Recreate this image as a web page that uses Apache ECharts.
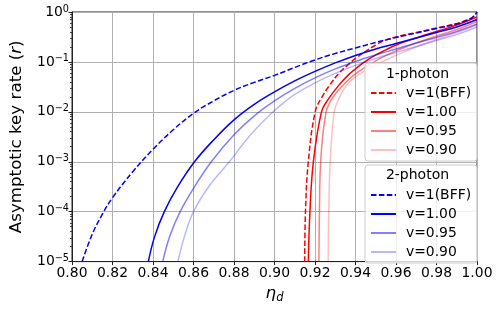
<!DOCTYPE html>
<html><head><meta charset="utf-8">
<script src="https://cdn.jsdelivr.net/npm/echarts@6/dist/echarts.min.js"></script>
<style>html,body{margin:0;padding:0;background:#fff}#c{width:498px;height:309px}</style>
</head><body><div id="c"></div><script>
// x values (eta_d) and log10 of key rate
const eta1pBFF = [0.9149,0.9153,0.9167,0.9201,0.9235,0.927,0.932,0.936,0.94,0.945,0.95,0.955,0.96,0.97,0.98,0.99,0.995,0.998,1.0];
const log1pBFF = [-5,-4,-3,-2,-1.7,-1.48,-1.22,-1.07,-0.93,-0.79,-0.66,-0.56,-0.5,-0.41,-0.32,-0.23,-0.16,-0.1,0];
const eta1pV100 = [0.9167,0.9175,0.9192,0.9232,0.9265,0.9315,0.937,0.94,0.9445,0.95,0.955,0.96,0.97,0.98,0.99,1.0];
const log1pV100 = [-5,-4,-3,-2,-1.75,-1.48,-1.24,-1.14,-1.0,-0.86,-0.76,-0.66,-0.52,-0.39,-0.26,-0.1];
const eta1pV095 = [0.9219,0.9222,0.9228,0.9255,0.929,0.9335,0.94,0.95,0.96,0.97,0.98,0.99,1.0];
const log1pV095 = [-5,-4,-3,-2,-1.7,-1.48,-1.24,-0.98,-0.78,-0.62,-0.48,-0.35,-0.19];
const eta1pV090 = [0.9265,0.9268,0.9275,0.9295,0.932,0.935,0.94,0.95,0.96,0.97,0.98,0.99,1.0];
const log1pV090 = [-5,-4,-3,-2,-1.72,-1.5,-1.3,-1.06,-0.87,-0.7,-0.55,-0.41,-0.26];

const eta2pBFF = [0.805,0.81,0.815,0.82,0.83,0.84,0.85,0.86,0.87,0.88,0.89,0.90,0.91,0.92,0.93,0.94,0.95,0.96,0.97,0.98,0.99,0.995,0.998,1.0];
const log2pBFF = [-5,-4.45,-4.05,-3.72,-3.2,-2.75,-2.36,-2.03,-1.78,-1.57,-1.41,-1.27,-1.11,-0.96,-0.83,-0.72,-0.61,-0.51,-0.42,-0.33,-0.24,-0.17,-0.1,0];
const eta2pV100 = [0.8377,0.8408,0.8456,0.8522,0.8605,0.87,0.88,0.89,0.90,0.91,0.92,0.93,0.94,0.95,0.96,0.97,0.98,0.99,1.0];
const log2pV100 = [-5,-4.5,-4,-3.5,-3,-2.56,-2.16,-1.85,-1.6,-1.38,-1.19,-1.02,-0.87,-0.74,-0.63,-0.52,-0.41,-0.3,-0.15];
const eta2pV095 = [0.8448,0.8482,0.8534,0.8605,0.8688,0.88,0.89,0.90,0.91,0.92,0.93,0.94,0.95,0.96,0.97,0.98,0.99,1.0];
const log2pV095 = [-5,-4.5,-4,-3.5,-3,-2.46,-2.08,-1.78,-1.53,-1.32,-1.14,-0.99,-0.86,-0.74,-0.62,-0.51,-0.39,-0.24];
const eta2pV090 = [0.8523,0.8555,0.86,0.8675,0.8777,0.888,0.898,0.905,0.91,0.92,0.93,0.94,0.95,0.96,0.97,0.98,0.99,1.0];
const log2pV090 = [-5,-4.5,-4,-3.5,-3,-2.47,-2.05,-1.8,-1.65,-1.42,-1.23,-1.07,-0.93,-0.81,-0.69,-0.57,-0.45,-0.3];

const legendLabels = ['v=1(BFF)','v=1.00','v=0.95','v=0.90'];
const groupTitles = ['1-photon','2-photon'];

const FONT = 'DejaVu Sans';
const RED = '#ff0000', BLUE = '#0000ff';

function pts(eta, lg){ return eta.map((x,i)=>[x, Math.pow(10, lg[i])]); }
function mk(name, eta, lg, color, dashed, opacity){
  return {
    name, type:'line', data: pts(eta, lg), symbol:'none', showSymbol:false,
    smooth:0.4, clip:true, animation:false,
    lineStyle:{color, width:1.5, type: dashed ? [5.5,2.4] : 'solid', opacity},
    itemStyle:{color, opacity}
  };
}
const series = [
  mk('1|'+legendLabels[0], eta1pBFF, log1pBFF, RED, true, 1),
  mk('1|'+legendLabels[1], eta1pV100, log1pV100, RED, false, 1),
  mk('1|'+legendLabels[2], eta1pV095, log1pV095, RED, false, 0.5),
  mk('1|'+legendLabels[3], eta1pV090, log1pV090, RED, false, 0.25),
  mk('2|'+legendLabels[0], eta2pBFF, log2pBFF, BLUE, true, 1),
  mk('2|'+legendLabels[1], eta2pV100, log2pV100, BLUE, false, 1),
  mk('2|'+legendLabels[2], eta2pV095, log2pV095, BLUE, false, 0.5),
  mk('2|'+legendLabels[3], eta2pV090, log2pV090, BLUE, false, 0.28)
];

const minorVals = [];
for (let k=-5;k<0;k++) for (let m=2;m<10;m++) minorVals.push(m*Math.pow(10,k));

function legendCfg(g, top){
  return {
    data: legendLabels.map(l=>g+'|'+l), orient:'vertical', left:365, top,
    padding:[23,6,4,5], itemWidth:25, itemHeight:14, itemGap:5,
    backgroundColor:'rgba(255,255,255,0.8)', borderColor:'#cccccc', borderWidth:1, borderRadius:3,
    selectedMode:false, formatter: n=>n.split('|')[1],
    itemStyle:{opacity:0},
    textStyle:{fontFamily:FONT, fontSize:13.9, color:'#000', lineHeight:14, padding:[0,0,0,5]},
    z:5
  };
}

const chart = echarts.init(document.getElementById('c'), null, {renderer:'canvas'});
chart.setOption({
  animation:false,
  backgroundColor:'#fff',
  grid:{left:65, right:21, top:12, bottom:44, show:true, borderColor:'#222', borderWidth:1, backgroundColor:'transparent'},
  xAxis:{
    type:'value', min:0.8, max:1.0, interval:0.02,
    name:'{e|η}{d|d}', nameLocation:'middle', nameGap:18,
    nameTextStyle:{rich:{e:{fontFamily:FONT, fontStyle:'italic', fontSize:16.7, color:'#000'},
                         d:{fontFamily:FONT, fontStyle:'italic', fontSize:11.5, color:'#000', padding:[8,0,0,0]}}},
    axisLine:{show:true, lineStyle:{color:'#222', width:1}},
    axisTick:{show:true, length:3.5, lineStyle:{color:'#222'}},
    axisLabel:{fontFamily:FONT, fontSize:13.9, color:'#000', margin:5, formatter:v=>v.toFixed(2)},
    splitLine:{show:true, lineStyle:{color:'#b0b0b0', width:1}}
  },
  yAxis:[{
    type:'log', logBase:10, min:1e-5, max:1,
    name:'Asymptotic key rate ({i|r})', nameLocation:'middle', nameGap:47,
    nameTextStyle:{fontFamily:FONT, fontSize:16.7, color:'#000',
      rich:{i:{fontFamily:FONT, fontStyle:'italic', fontSize:16.7, color:'#000'}}},
    axisLine:{show:true, lineStyle:{color:'#222', width:1}},
    axisTick:{show:true, length:3.5, lineStyle:{color:'#222'}},
    axisLabel:{margin:3, formatter:v=>{
        const e = Math.round(Math.log10(v));
        return '{b|10}{s|' + (e===0 ? '0' : '\u2212' + (-e)) + '}';
      },
      rich:{b:{fontFamily:FONT, fontSize:13.9, color:'#000', lineHeight:16},
            s:{fontFamily:FONT, fontSize:9.7, color:'#000', verticalAlign:'top', lineHeight:10, padding:[0,0,6,0]}}},
    splitLine:{show:true, lineStyle:{color:'#b0b0b0', width:1}}
  },{
    type:'log', logBase:10, min:1e-5, max:1, position:'left',
    axisLine:{show:false}, axisLabel:{show:false}, splitLine:{show:false},
    axisTick:{show:true, length:2, customValues:minorVals, lineStyle:{color:'#222', width:0.8}}
  }],
  legend:[legendCfg('1',63), legendCfg('2',165)],
  graphic:[
    {type:'text', x:417.5, y:74, z:100, style:{text:groupTitles[0], textAlign:'center', textVerticalAlign:'middle', font:'14px "DejaVu Sans"', fill:'#000'}},
    {type:'text', x:417.5, y:175.5, z:100, style:{text:groupTitles[1], textAlign:'center', textVerticalAlign:'middle', font:'14px "DejaVu Sans"', fill:'#000'}}
  ],
  series
});
</script></body></html>
